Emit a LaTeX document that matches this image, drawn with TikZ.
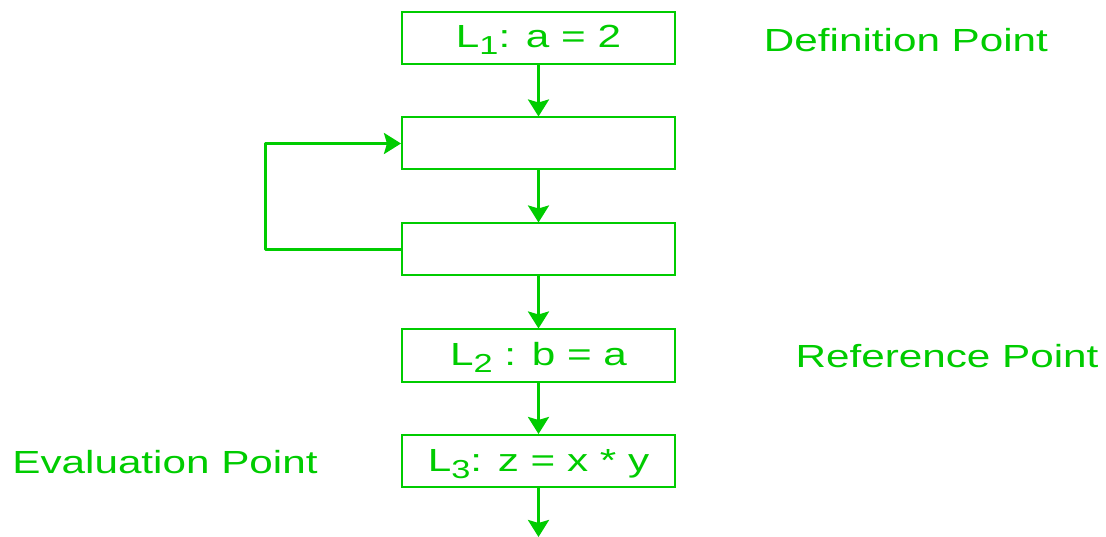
\documentclass[tikz,border=0pt]{standalone}
\usepackage{fontspec}
\setmainfont{Liberation Sans}
\usetikzlibrary{arrows.meta}
\definecolor{flowgreen}{RGB}{0,204,0}
% labels are set wider than they are tall
\newcommand{\widetext}[1]{\scalebox{1.32}[1]{#1}}
\newcommand{\lsub}[1]{\raisebox{-7pt}{\fontsize{26}{26}\selectfont #1}}
\begin{document}
\begin{tikzpicture}[x=1pt,y=-1pt,
  stmt/.style={draw=flowgreen,line width=2pt,minimum width=273pt,minimum height=52pt,
    inner sep=0pt,text height=20pt,text depth=0pt,text=flowgreen,
    font=\fontsize{32}{36}\selectfont},
  tag/.style={text=flowgreen,inner sep=0pt,font=\fontsize{32}{36}\selectfont},
  flow/.style={draw=flowgreen,line width=3pt,
    -{Stealth[length=17pt,width=21pt,inset=3pt]}}]
\useasboundingbox (0,0) rectangle (1106,537);
\node[stmt] (b1) at (538.5,38) {\widetext{L\lsub{1}: a = 2}};
\node[stmt] (b2) at (538.5,143.5) {};
\node[stmt] (b3) at (538.5,249.5) {};
\node[stmt] (b4) at (538.5,355.5) {\widetext{L\lsub{2} : b = a}};
\node[stmt] (b5) at (538.5,461) {\widetext{L\lsub{3}: z = x * y}};
\node[tag] (def) at (906,40) {\widetext{Definition Point}};
\node[tag] (ref) at (947,356) {\widetext{Reference Point}};
\node[tag] (eva) at (165,462) {\widetext{Evaluation Point}};
\coordinate (loop) at (265,196);
\coordinate (exit) at (538.5,537);
\draw[flow] (b1.south) -- (b2.north);
\draw[flow] (b2.south) -- (b3.north);
\draw[flow] (b3.south) -- (b4.north);
\draw[flow] (b4.south) -- (b5.north);
\draw[flow] (b5.south) -- (exit);
\draw[flow,line join=round] (b3.west) -| (loop) |- (b2.west);
\end{tikzpicture}
\end{document}
